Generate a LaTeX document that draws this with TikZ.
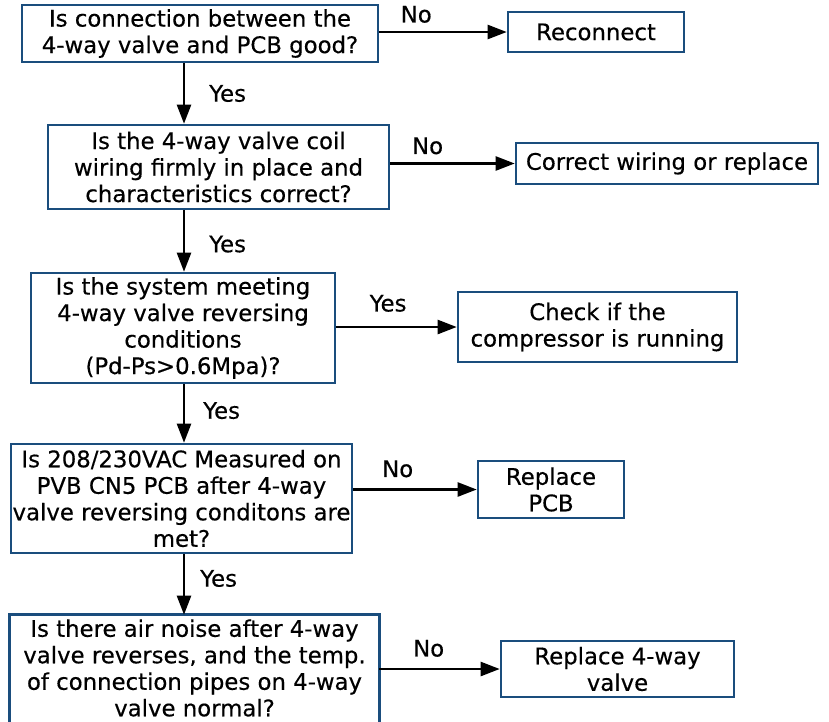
\documentclass[tikz,border=0pt]{standalone}
\usepackage{fontspec}
\setmainfont{DejaVu Sans}[FakeBold=0.4]
\usetikzlibrary{arrows.meta}
\definecolor{boxblue}{RGB}{26,77,125}
\tikzset{
  fbox/.style={draw=boxblue, line width=2.6pt, rectangle, inner sep=0pt, align=center,
    font=\fontsize{22.8}{26.5}\selectfont, text=black},
  conn/.style={line width=2.4pt, draw=black, -{Triangle[length=19pt,width=14pt]}},
  lbl/.style={font=\fontsize{22.8}{26.5}\selectfont, text=black, inner sep=0pt}
}
\begin{document}
\begin{tikzpicture}[x=1pt,y=-1pt]
\useasboundingbox (0,0) rectangle (829,721);
\clip (0,0) rectangle (829,721);
\fill[white] (0,0) rectangle (829,721);
\coordinate (ax) at (184,0);
% question boxes
\node[fbox, minimum width=356pt, minimum height=57pt] (b1) at (200,33.5)
  {Is connection between the\\4-way valve and PCB good?};
\node[fbox, minimum width=341pt, minimum height=84pt] (b2) at (218.5,167)
  {Is the 4-way valve coil\\wiring firmly in place and\\characteristics correct?};
\node[fbox, minimum width=304pt, minimum height=110pt] (b3) at (183,328)
  {Is the system meeting\\4-way valve reversing\\conditions\\(Pd-Ps>0.6Mpa)?};
\node[fbox, minimum width=341pt, minimum height=109pt] (b4) at (181.5,498.5)
  {Is 208/230VAC Measured on\\PVB CN5 PCB after 4-way\\valve reversing conditons are\\met?};
\node[fbox, draw=none, minimum width=367pt, minimum height=104pt] (b5) at (194.5,668)
  {Is there air noise after 4-way\\valve reverses, and the temp.\\of connection pipes on 4-way\\valve normal?};
\draw[draw=boxblue, line width=2.6pt] ([yshift=-14pt]b5.south west) -- (b5.north west)
  -- (b5.north east) -- ([yshift=-14pt]b5.south east);
% action boxes
\node[fbox, minimum width=176pt, minimum height=40pt] (r1) at (596,32) {Reconnect};
\node[fbox, minimum width=302pt, minimum height=41pt] (r2) at (667,163.5) {Correct wiring or replace};
\node[fbox, minimum width=279pt, minimum height=70pt] (r3) at (597.5,327) {Check if the\\compressor is running};
\node[fbox, minimum width=146pt, minimum height=57pt] (r4) at (551,489.5) {Replace\\PCB};
\node[fbox, minimum width=233pt, minimum height=56pt] (r5) at (617.5,669) {Replace 4-way\\valve};
% horizontal connectors
\draw[conn] (b1.east |- r1.west) -- node[lbl, pos=0.29, above=8pt] (n1) {No} (r1.west);
\draw[conn] (b2.east |- r2.west) -- node[lbl, pos=0.30, above=8pt] (n2) {No} (r2.west);
\draw[conn] (b3.east |- r3.west) -- node[lbl, pos=0.43, above=14pt] (n3) {Yes} (r3.west);
\draw[conn] (b4.east |- r4.west) -- node[lbl, pos=0.36, above=11pt] (n4) {No} (r4.west);
\draw[conn] (b5.east |- r5.west) -- node[lbl, pos=0.41, above=11pt] (n5) {No} (r5.west);
% vertical connectors
\draw[conn] (b1.south -| ax) -- node[lbl, midway, right=24pt] (y1) {Yes} (b2.north -| ax);
\draw[conn] (b2.south -| ax) -- node[lbl, pos=0.55, right=24pt] (y2) {Yes} (b3.north -| ax);
\draw[conn] (b3.south -| ax) -- node[lbl, pos=0.45, right=18pt] (y3) {Yes} (b4.north -| ax);
\draw[conn] (b4.south -| ax) -- node[lbl, pos=0.40, right=15pt] (y4) {Yes} (b5.north -| ax);
\end{tikzpicture}
\end{document}
